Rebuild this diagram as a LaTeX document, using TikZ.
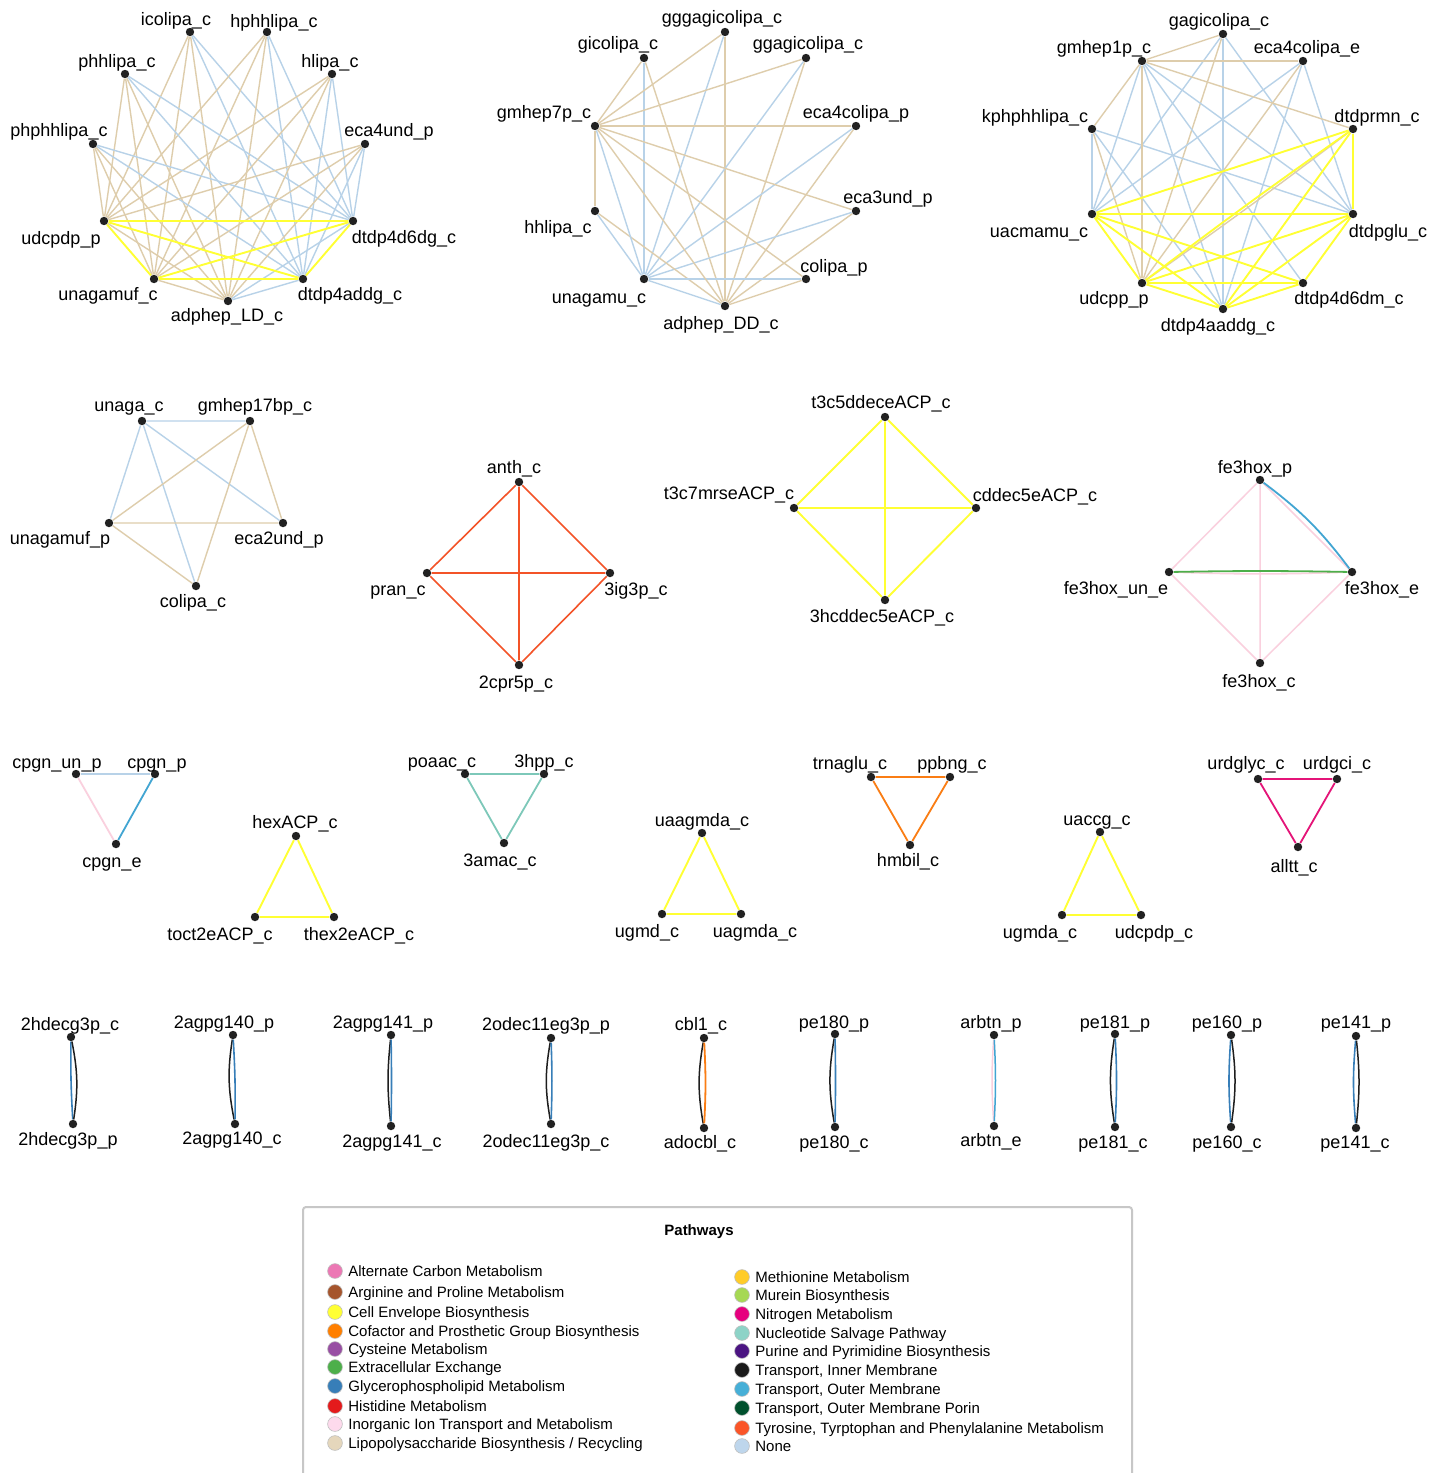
\documentclass[tikz,border=0pt]{standalone}
\usepackage{fontspec}
\setmainfont{Liberation Sans}
\pgfdeclarelayer{back}
\pgfdeclarelayer{bg}
\pgfsetlayers{back,bg,main}
\definecolor{eLPS}{RGB}{222,205,172}
\definecolor{eNone}{RGB}{184,210,232}
\definecolor{eCell}{RGB}{255,255,51}
\definecolor{eTyr}{RGB}{243,83,40}
\definecolor{eInorg}{RGB}{250,208,222}
\definecolor{eExt}{RGB}{77,175,74}
\definecolor{eTOut}{RGB}{66,165,210}
\definecolor{eNuc}{RGB}{125,200,185}
\definecolor{eCof}{RGB}{250,125,20}
\definecolor{eNit}{RGB}{228,20,120}
\definecolor{eGly}{RGB}{55,126,184}
\definecolor{eTIn}{RGB}{30,30,30}
\definecolor{gAlt}{RGB}{236,120,180}
\definecolor{gArg}{RGB}{165,85,45}
\definecolor{gCell}{RGB}{255,255,51}
\definecolor{gCof}{RGB}{255,127,0}
\definecolor{gCys}{RGB}{152,78,163}
\definecolor{gExt}{RGB}{77,175,74}
\definecolor{gGly}{RGB}{55,126,184}
\definecolor{gHis}{RGB}{228,26,28}
\definecolor{gInorg}{RGB}{253,218,236}
\definecolor{gLPS}{RGB}{229,215,188}
\definecolor{gMet}{RGB}{255,204,41}
\definecolor{gMur}{RGB}{166,216,84}
\definecolor{gNit}{RGB}{230,0,126}
\definecolor{gNuc}{RGB}{141,211,199}
\definecolor{gPur}{RGB}{75,20,130}
\definecolor{gTIn}{RGB}{26,26,26}
\definecolor{gTOut}{RGB}{70,175,215}
\definecolor{gPor}{RGB}{0,80,45}
\definecolor{gTyr}{RGB}{250,85,40}
\definecolor{gNone}{RGB}{190,214,236}
\newcommand\met[4]{\node[dot] (#1) at (#2) {}; \node[lab] (#1-l) at (#3) {#4};}
\newcommand\leg[4]{\node[legdot,fill=#4] (#1) at (#2) {}; \node[legtxt] (#1-t) at (#3) {#1};}
\begin{document}
\begin{tikzpicture}[x=0.5pt,y=-0.5pt,
  dot/.style={circle,fill=black!87,inner sep=0,minimum size=4.2pt},
  lab/.style={inner sep=0,font=\fontsize{9}{10}\selectfont,text height=6.5pt,text depth=1.9pt,yshift=-0.8pt},
  lps/.style={draw=eLPS,line width=0.7pt},
  nne/.style={draw=eNone,line width=0.7pt},
  cell/.style={draw=eCell,line width=0.95pt},
  tyr/.style={draw=eTyr,line width=0.8pt},
  inorg/.style={draw=eInorg,line width=0.75pt},
  ext/.style={draw=eExt,line width=0.9pt},
  tout/.style={draw=eTOut,line width=0.9pt},
  nuc/.style={draw=eNuc,line width=0.9pt},
  cof/.style={draw=eCof,line width=0.9pt},
  nit/.style={draw=eNit,line width=0.9pt},
  gly/.style={draw=eGly,line width=0.8pt},
  tin/.style={draw=eTIn,line width=0.75pt},
  legdot/.style={circle,inner sep=0,minimum size=7.4pt,draw=black!25,line width=0.3pt},
  legtxt/.style={anchor=west,inner sep=0,font=\fontsize{7.5}{9}\selectfont,text height=5.4pt,text depth=1.6pt,yshift=-0.6pt}]
\useasboundingbox (0,0) rectangle (1442,1473);
\begin{pgfonlayer}{back}
\fill[white] (0,0) rectangle (1442,1473);
\end{pgfonlayer}

% ---------- cluster 1
\met{icolipa-c}{190,32}{176,19}{icolipa\_c}
\met{hphhlipa-c}{267,32}{274,21}{hphhlipa\_c}
\met{phhlipa-c}{125,74}{117,61}{phhlipa\_c}
\met{hlipa-c}{332,74}{330,61}{hlipa\_c}
\met{phphhlipa-c}{93,144}{59,130}{phphhlipa\_c}
\met{eca4und-p}{365,144}{389,130}{eca4und\_p}
\met{udcpdp-p}{104,221}{61,238}{udcpdp\_p}
\met{dtdp4d6dg-c}{353,221}{404,237}{dtdp4d6dg\_c}
\met{unagamuf-c}{154,279}{108,294}{unagamuf\_c}
\met{dtdp4addg-c}{303,279}{350,294}{dtdp4addg\_c}
\met{adphep-LD-c}{228,301}{227,315}{adphep\_LD\_c}
% ---------- cluster 2
\met{gggagicolipa-c}{725,32}{722,17}{gggagicolipa\_c}
\met{gicolipa-c}{644,58}{618,43}{gicolipa\_c}
\met{ggagicolipa-c}{806,58}{808,43}{ggagicolipa\_c}
\met{gmhep7p-c}{595,126}{544,112}{gmhep7p\_c}
\met{eca4colipa-p}{856,126}{856,112}{eca4colipa\_p}
\met{hhlipa-c}{595,211}{558,227}{hhlipa\_c}
\met{eca3und-p}{856,211}{888,197}{eca3und\_p}
\met{unagamu-c}{644,279}{599,297}{unagamu\_c}
\met{colipa-p}{806,279}{834,266}{colipa\_p}
\met{adphep-DD-c}{725,306}{721,323}{adphep\_DD\_c}
% ---------- cluster 3
\met{gagicolipa-c}{1223,34}{1219,20}{gagicolipa\_c}
\met{gmhep1p-c}{1142,61}{1104,47}{gmhep1p\_c}
\met{eca4colipa-e}{1303,61}{1307,47}{eca4colipa\_e}
\met{kphphhlipa-c}{1092,129}{1035,116}{kphphhlipa\_c}
\met{dtdprmn-c}{1353,129}{1377,116}{dtdprmn\_c}
\met{uacmamu-c}{1092,214}{1039,231}{uacmamu\_c}
\met{dtdpglu-c}{1353,214}{1388,231}{dtdpglu\_c}
\met{udcpp-p}{1142,283}{1114,298}{udcpp\_p}
\met{dtdp4d6dm-c}{1303,283}{1349,298}{dtdp4d6dm\_c}
\met{dtdp4aaddg-c}{1223,309}{1218,325}{dtdp4aaddg\_c}
% ---------- row 2
\met{unaga-c}{142,421}{129,405}{unaga\_c}
\met{gmhep17bp-c}{250,421}{255,405}{gmhep17bp\_c}
\met{unagamuf-p}{109,523}{60,538}{unagamuf\_p}
\met{eca2und-p}{283,523}{279,538}{eca2und\_p}
\met{colipa-c}{196,586}{193,601}{colipa\_c}
\met{anth-c}{519,482}{514,467}{anth\_c}
\met{pran-c}{427,573}{398,589}{pran\_c}
\met{3ig3p-c}{610,573}{636,589}{3ig3p\_c}
\met{2cpr5p-c}{519,665}{516,682}{2cpr5p\_c}
\met{t3c5ddeceACP-c}{885,417}{881,402}{t3c5ddeceACP\_c}
\met{t3c7mrseACP-c}{794,508}{729,493}{t3c7mrseACP\_c}
\met{cddec5eACP-c}{976,508}{1035,495}{cddec5eACP\_c}
\met{3hcddec5eACP-c}{885,600}{882,616}{3hcddec5eACP\_c}
\met{fe3hox-p}{1260,480}{1255,467}{fe3hox\_p}
\met{fe3hox-un-e}{1169,572}{1116,588}{fe3hox\_un\_e}
\met{fe3hox-e}{1352,572}{1382,588}{fe3hox\_e}
\met{fe3hox-c}{1260,663}{1259,681}{fe3hox\_c}
% ---------- row 3
\met{cpgn-un-p}{76,774}{57,762}{cpgn\_un\_p}
\met{cpgn-p}{155,774}{157,762}{cpgn\_p}
\met{cpgn-e}{116,844}{112,861}{cpgn\_e}
\met{hexACP-c}{296,836}{295,822}{hexACP\_c}
\met{toct2eACP-c}{255,917}{220,934}{toct2eACP\_c}
\met{thex2eACP-c}{334,917}{359,934}{thex2eACP\_c}
\met{poaac-c}{465,774}{442,761}{poaac\_c}
\met{3hpp-c}{544,774}{544,761}{3hpp\_c}
\met{3amac-c}{504,843}{500,860}{3amac\_c}
\met{uaagmda-c}{702,833}{702,820}{uaagmda\_c}
\met{ugmd-c}{662,914}{647,931}{ugmd\_c}
\met{uagmda-c}{741,914}{755,931}{uagmda\_c}
\met{trnaglu-c}{871,777}{850,763}{trnaglu\_c}
\met{ppbng-c}{950,777}{952,763}{ppbng\_c}
\met{hmbil-c}{910,845}{908,860}{hmbil\_c}
\met{uaccg-c}{1100,832}{1097,819}{uaccg\_c}
\met{ugmda-c}{1062,915}{1040,932}{ugmda\_c}
\met{udcpdp-c}{1141,915}{1154,932}{udcpdp\_c}
\met{urdglyc-c}{1258,779}{1246,763}{urdglyc\_c}
\met{urdgci-c}{1337,779}{1337,763}{urdgci\_c}
\met{alltt-c}{1298,847}{1294,866}{alltt\_c}
% ---------- row 4
\met{2hdecg3p-c}{71,1037}{70,1024}{2hdecg3p\_c}
\met{2hdecg3p-p}{73,1124}{68,1139}{2hdecg3p\_p}
\met{2agpg140-p}{233,1035}{224,1022}{2agpg140\_p}
\met{2agpg140-c}{235,1124}{232,1138}{2agpg140\_c}
\met{2agpg141-p}{391,1035}{383,1022}{2agpg141\_p}
\met{2agpg141-c}{391,1126}{392,1141}{2agpg141\_c}
\met{2odec11eg3p-p}{551,1038}{546,1024}{2odec11eg3p\_p}
\met{2odec11eg3p-c}{551,1124}{546,1141}{2odec11eg3p\_c}
\met{cbl1-c}{704,1038}{701,1024}{cbl1\_c}
\met{adocbl-c}{704,1128}{700,1142}{adocbl\_c}
\met{pe180-p}{835,1034}{834,1022}{pe180\_p}
\met{pe180-c}{835,1127}{834,1142}{pe180\_c}
\met{arbtn-p}{994,1035}{991,1022}{arbtn\_p}
\met{arbtn-e}{994,1126}{991,1140}{arbtn\_e}
\met{pe181-p}{1115,1034}{1115,1022}{pe181\_p}
\met{pe181-c}{1115,1127}{1113,1142}{pe181\_c}
\met{pe160-p}{1231,1035}{1227,1022}{pe160\_p}
\met{pe160-c}{1231,1127}{1227,1142}{pe160\_c}
\met{pe141-p}{1356,1036}{1356,1022}{pe141\_p}
\met{pe141-c}{1356,1128}{1355,1142}{pe141\_c}

\begin{pgfonlayer}{bg}
% cluster 1
\foreach \a in {icolipa-c,hphhlipa-c,phhlipa-c,hlipa-c,phphhlipa-c,eca4und-p}{
  \foreach \b in {udcpdp-p,unagamuf-c,adphep-LD-c} \draw[lps] (\a)--(\b);
  \foreach \b in {dtdp4d6dg-c,dtdp4addg-c} \draw[nne] (\a)--(\b);
}
\draw[lps] (adphep-LD-c)--(udcpdp-p);
\draw[lps] (adphep-LD-c)--(unagamuf-c);
\draw[nne] (adphep-LD-c)--(dtdp4d6dg-c);
\draw[nne] (adphep-LD-c)--(dtdp4addg-c);
\draw[cell] (udcpdp-p)--(unagamuf-c) (udcpdp-p)--(dtdp4d6dg-c) (udcpdp-p)--(dtdp4addg-c)
  (unagamuf-c)--(dtdp4d6dg-c) (unagamuf-c)--(dtdp4addg-c) (dtdp4addg-c)--(dtdp4d6dg-c);
% cluster 2
\foreach \a in {gicolipa-c,gggagicolipa-c,ggagicolipa-c,eca4colipa-p,eca3und-p,hhlipa-c,colipa-p}{
  \draw[lps] (\a)--(gmhep7p-c);
  \draw[lps] (\a)--(adphep-DD-c);
  \draw[nne] (\a)--(unagamu-c);
}
\draw[lps] (gmhep7p-c)--(adphep-DD-c);
\draw[nne] (gmhep7p-c)--(unagamu-c);
\draw[nne] (unagamu-c)--(adphep-DD-c);
% cluster 3
\foreach \a in {gagicolipa-c,eca4colipa-e,kphphhlipa-c}{
  \draw[lps] (\a)--(gmhep1p-c);
  \draw[lps] (\a)--(udcpp-p);
  \foreach \b in {uacmamu-c,dtdp4aaddg-c,dtdpglu-c} \draw[nne] (\a)--(\b);
}
\draw[lps] (gmhep1p-c)--(udcpp-p);
\draw[lps] (gmhep1p-c)--(dtdprmn-c);
\foreach \b in {uacmamu-c,dtdp4aaddg-c,dtdpglu-c,dtdp4d6dm-c} \draw[nne] (gmhep1p-c)--(\b);
\draw[lps] (dtdprmn-c) to[bend left=1] (udcpp-p);
\draw[cell] (dtdprmn-c) to[bend right=1] (udcpp-p);
\foreach \b in {uacmamu-c,dtdp4aaddg-c,dtdpglu-c} \draw[cell] (dtdprmn-c)--(\b);
\foreach \b in {udcpp-p,uacmamu-c,dtdp4aaddg-c,dtdpglu-c} \draw[cell] (dtdp4d6dm-c)--(\b);
\draw[cell] (udcpp-p)--(uacmamu-c) (udcpp-p)--(dtdp4aaddg-c) (udcpp-p)--(dtdpglu-c)
  (uacmamu-c)--(dtdp4aaddg-c) (uacmamu-c)--(dtdpglu-c) (dtdp4aaddg-c)--(dtdpglu-c);
% cluster 4
\draw[nne] (unaga-c)--(gmhep17bp-c) (unaga-c)--(unagamuf-p) (unaga-c)--(colipa-c) (unaga-c)--(eca2und-p);
\draw[lps] (gmhep17bp-c)--(unagamuf-p) (gmhep17bp-c)--(colipa-c) (gmhep17bp-c)--(eca2und-p)
  (unagamuf-p)--(eca2und-p) (unagamuf-p)--(colipa-c);
% cluster 5
\draw[tyr] (anth-c)--(pran-c) (anth-c)--(3ig3p-c) (anth-c)--(2cpr5p-c)
  (pran-c)--(3ig3p-c) (pran-c)--(2cpr5p-c) (3ig3p-c)--(2cpr5p-c);
% cluster 6
\draw[cell] (t3c5ddeceACP-c)--(t3c7mrseACP-c) (t3c5ddeceACP-c)--(cddec5eACP-c) (t3c5ddeceACP-c)--(3hcddec5eACP-c)
  (t3c7mrseACP-c)--(cddec5eACP-c) (t3c7mrseACP-c)--(3hcddec5eACP-c) (cddec5eACP-c)--(3hcddec5eACP-c);
% cluster 7
\draw[inorg] (fe3hox-p)--(fe3hox-un-e) (fe3hox-p)--(fe3hox-e) (fe3hox-p)--(fe3hox-c)
  (fe3hox-un-e)--(fe3hox-c) (fe3hox-e)--(fe3hox-c);
\draw[inorg] (fe3hox-un-e) to[bend right=2] (fe3hox-e);
\draw[ext] (fe3hox-un-e) to[bend left=1] (fe3hox-e);
\draw[tout] (fe3hox-p) to[bend left=8] (fe3hox-e);
% row 3
\draw[nne,line width=0.9pt] (cpgn-un-p)--(cpgn-p);
\draw[inorg,line width=0.9pt] (cpgn-un-p)--(cpgn-e);
\draw[tout] (cpgn-p)--(cpgn-e);
\draw[cell] (hexACP-c)--(toct2eACP-c)--(thex2eACP-c)--(hexACP-c);
\draw[nuc] (poaac-c)--(3hpp-c)--(3amac-c)--(poaac-c);
\draw[cell] (uaagmda-c)--(ugmd-c)--(uagmda-c)--(uaagmda-c);
\draw[cof] (trnaglu-c)--(ppbng-c)--(hmbil-c)--(trnaglu-c);
\draw[cell] (uaccg-c)--(ugmda-c)--(udcpdp-c)--(uaccg-c);
\draw[nit] (urdglyc-c)--(urdgci-c)--(alltt-c)--(urdglyc-c);
% row 4
\draw[gly] (2hdecg3p-c) to[bend right=2] (2hdecg3p-p);
\draw[tin] (2hdecg3p-c) to[bend left=10] (2hdecg3p-p);
\draw[tin] (2agpg140-p) to[bend right=10] (2agpg140-c);
\draw[gly] (2agpg140-p) to[bend left=2] (2agpg140-c);
\draw[tin] (2agpg141-p) to[bend right=6] (2agpg141-c);
\draw[gly] (2agpg141-p) to[bend left=1] (2agpg141-c);
\draw[tin] (2odec11eg3p-p) to[bend right=10] (2odec11eg3p-c);
\draw[gly] (2odec11eg3p-p) to[bend left=2] (2odec11eg3p-c);
\draw[tin] (cbl1-c) to[bend right=10] (adocbl-c);
\draw[cof] (cbl1-c) to[bend left=3] (adocbl-c);
\draw[tin] (pe180-p) to[bend right=10] (pe180-c);
\draw[gly] (pe180-p) to[bend left=1] (pe180-c);
\draw[inorg] (arbtn-p) to[bend right=4] (arbtn-e);
\draw[tout,line width=0.75pt] (arbtn-p) to[bend left=3] (arbtn-e);
\draw[tin] (pe181-p) to[bend right=9] (pe181-c);
\draw[gly] (pe181-p) to[bend left=3] (pe181-c);
\draw[gly] (pe160-p) to[bend right=4] (pe160-c);
\draw[tin] (pe160-p) to[bend left=8] (pe160-c);
\draw[gly] (pe141-p) to[bend right=5] (pe141-c);
\draw[tin] (pe141-p) to[bend left=6] (pe141-c);
\end{pgfonlayer}

% ---------- legend
\draw[draw=black!22,line width=1pt,rounded corners=1.5pt] (303,1207) rectangle (1132,1490);
\node[inner sep=0,font=\bfseries\fontsize{7.5}{9}\selectfont] (legtitle) at (699,1232) {Pathways};
\leg{Alternate Carbon Metabolism}{335,1271}{348,1271}{gAlt}
\leg{Arginine and Proline Metabolism}{335,1292}{348,1292}{gArg}
\leg{Cell Envelope Biosynthesis}{335,1312}{348,1312}{gCell}
\leg{Cofactor and Prosthetic Group Biosynthesis}{335,1331}{348,1331}{gCof}
\leg{Cysteine Metabolism}{335,1349}{348,1349}{gCys}
\leg{Extracellular Exchange}{335,1367}{348,1367}{gExt}
\leg{Glycerophospholipid Metabolism}{335,1386}{348,1386}{gGly}
\leg{Histidine Metabolism}{335,1406}{348,1406}{gHis}
\leg{Inorganic Ion Transport and Metabolism}{335,1424}{348,1424}{gInorg}
\leg{Lipopolysaccharide Biosynthesis / Recycling}{335,1443}{348,1443}{gLPS}
\leg{Methionine Metabolism}{742,1277}{755,1277}{gMet}
\leg{Murein Biosynthesis}{742,1295}{755,1295}{gMur}
\leg{Nitrogen Metabolism}{742,1314}{755,1314}{gNit}
\leg{Nucleotide Salvage Pathway}{742,1333}{755,1333}{gNuc}
\leg{Purine and Pyrimidine Biosynthesis}{742,1351}{755,1351}{gPur}
\leg{Transport, Inner Membrane}{742,1370}{755,1370}{gTIn}
\leg{Transport, Outer Membrane}{742,1389}{755,1389}{gTOut}
\leg{Transport, Outer Membrane Porin}{742,1408}{755,1408}{gPor}
\leg{Tyrosine, Tyrptophan and Phenylalanine Metabolism}{742,1428}{755,1428}{gTyr}
\leg{None}{742,1446}{755,1446}{gNone}
\end{tikzpicture}
\end{document}
